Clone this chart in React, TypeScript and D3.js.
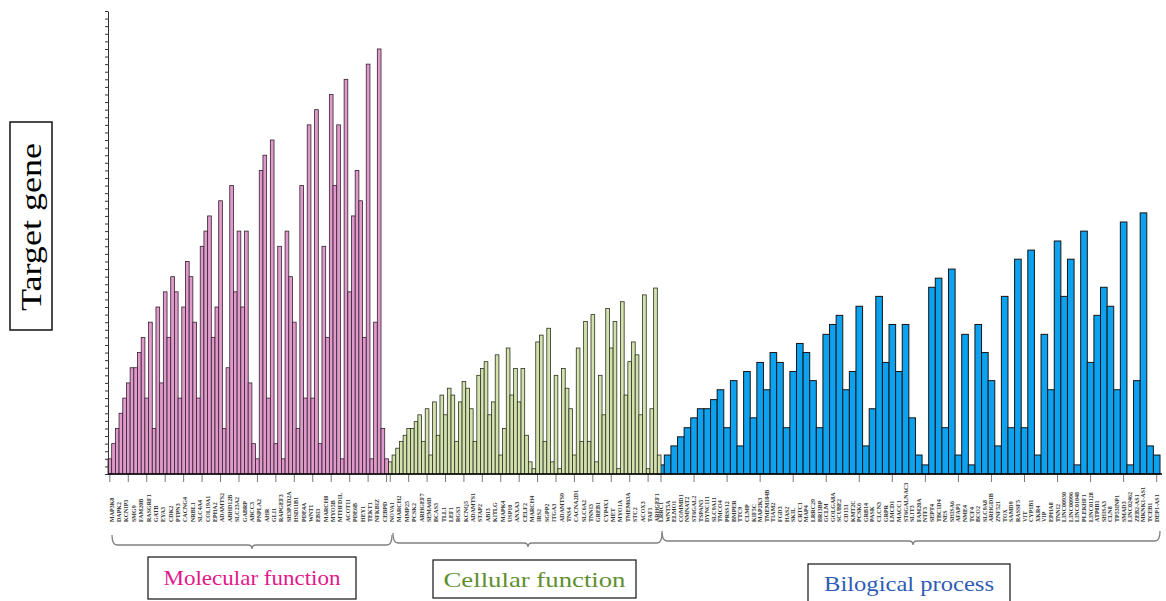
import React, { useEffect, useRef } from 'react';
import * as d3 from 'd3';

// bar heights, in y-axis tick units (baseline = 0)
const molecularValues = [
  2, 4, 6, 8, 10, 12, 14, 14, 16, 18, 10, 20, 6, 22, 12, 24, 18, 26, 24, 10,
  22, 28, 26, 20, 10, 30, 32, 34, 18, 22, 36, 6, 14, 38, 24, 32, 22, 32, 12, 4,
  2, 40, 42, 10, 44, 4, 30, 2, 32, 26, 20, 6, 38, 10, 46, 10, 48, 4, 30, 18,
  50, 38, 46, 2, 52, 24, 34, 40, 36, 18, 54, 2, 20, 56, 6, 2,
];

const cellularValues = [
  1.6, 2.5, 3.4, 4.3, 5.1, 6.0, 6.0, 6.9, 7.8, 4.3, 8.6, 2.5, 9.5, 5.1, 10.4, 7.8, 11.3, 10.4, 4.3, 9.5,
  12.2, 11.3, 8.6, 4.3, 13.0, 13.9, 14.8, 7.8, 9.5, 15.7, 2.5, 6.0, 16.6, 10.4, 13.9, 9.5, 13.9, 5.1, 1.6, 0.7,
  17.4, 18.3, 4.3, 19.2, 1.6, 13.0, 0.7, 13.9, 11.3, 8.6, 2.5, 16.6, 4.3, 20.1, 4.3, 21.0, 1.6, 13.0, 7.8, 21.8,
  16.6, 20.1, 0.7, 22.7, 10.4, 14.8, 17.4, 15.7, 7.8, 23.6, 0.7, 8.6, 24.5, 2.5,
];

const biologicalValues = [
  1.2, 2.5, 3.7, 4.9, 6.1, 7.4, 8.6, 8.6, 9.8, 11.1, 6.1, 12.3, 3.7, 13.5, 7.4, 14.7, 11.1, 16.0, 14.7, 6.1,
  13.5, 17.2, 16.0, 12.3, 6.1, 18.4, 19.7, 20.9, 11.1, 13.5, 22.1, 3.7, 8.6, 23.4, 14.7, 19.7, 13.5, 19.7, 7.4, 2.5,
  1.2, 24.6, 25.8, 6.1, 27.0, 2.5, 18.4, 1.2, 19.7, 16.0, 12.3, 3.7, 23.4, 6.1, 28.3, 6.1, 29.5, 2.5, 18.4, 11.1,
  30.7, 23.4, 28.3, 1.2, 32.0, 14.7, 20.9, 24.6, 22.1, 11.1, 33.2, 1.2, 12.3, 34.4, 3.7, 2.5,
];

// gene labels under the axis (pink and green: one per two bars)
const molecularGenes = [
  'MAP3K8', 'DAPK2', 'KCNIP3', 'SMG9', 'FAM20B', 'RASGRF1', 'GATB', 'EYA3', 'CDK2', 'PTPN3',
  'CACNG4', 'NRBL1', 'SLC4A4', 'COL19A1', 'EPHA2', 'ADAMTS2', 'ABHD12B', 'SLC23A2', 'GABRP', 'ABCC3',
  'PNPLA2', 'AHR', 'GLI1', 'RAPGEF3', 'SH3PXD2A', 'HSD11B1', 'PDE4A', 'WNT1', 'EBI3', 'MARCH8',
  'MYO5B', 'MTHFD1L', 'ACOT11', 'PDE6B', 'HEY1', 'TEKT1', 'NFKBIZ', 'CEBPD',
];

const cellularGenes = [
  'NOVA1', 'MARCH2', 'MMP25', 'PCSK2', 'ARHGEF7', 'SEMA6D', 'BCAS3', 'TLL1', 'LEF1', 'RGS3',
  'KCNQ5', 'ADAMTS1', 'STAP2', 'ABI3', 'KITLG', 'MAPK4', 'USP10', 'ANXA3', 'CELF2', 'MARCH4',
  'IRS2', 'SGPP2', 'ITGA3', 'ADAMTS9', 'TNS4', 'CACNA2D1', 'SLC6A2', 'TNNI3', 'GREB1', 'CYP4X1',
  'MET', 'MYO1A', 'TMEM63A', 'STC2', 'ACOX3', 'TAF1', 'ARHGEF1',
];

const biologicalGenes = [
  'LRRC1', 'WNT5A', 'ELMO1', 'COMMD1', 'NMNAT2', 'ST6GAL2', 'TSPAN5', 'DYNC1I1', 'SLC9A11', 'TMCO4',
  'PRSS12', 'BMPER', 'TTC9', 'CLMP', 'KIF5C', 'MAP2K3', 'TMEM184B', 'TIAM2', 'FGD3', 'HAS2',
  'SKIL', 'CRTC1', 'MAP4', 'LRRC29', 'BRI3BP', 'GCLM', 'GOLGA8A', 'SCUBE2', 'CD151', 'KMT2C',
  'PCSK6', 'GRB14', 'PASK', 'CLCN3', 'GRPR', 'LMCD1', 'MACC1', 'ST6GALNAC3', 'SLIT3', 'FAM20A',
  'NTF3', 'SEPT4', 'TBC1D4', 'NES', 'SHISA6', 'AFAP1', 'NME4', 'TCF4', 'BCO2', 'SLC9A8',
  'ARHGDIB', 'ZNF521', 'TOX', 'SAMD9', 'RASSF5', 'VIT', 'CYP1B1', 'XKR4', 'VIP', 'EPHA8',
  'TNNI2', 'LINC00930', 'LINC00996', 'LINC01048', 'PLEKHF1', 'LINC01128', 'ATP8B1', 'SHISA3', 'CLN8', 'TP53INP1',
  'SMAD3', 'LINC02462', 'ZEB2-AS1', 'MKNK1-AS1', 'TCEB1', 'DEP1-AS1',
];

const groupTitles = ['Molecular function', 'Cellular function', 'Bilogical process'];
const yTicks = d3.range(0, 62);

const SERIF = '"Liberation Serif", "Times New Roman", serif';

export default function App() {
  const ref = useRef<SVGSVGElement>(null);

  useEffect(() => {
    const svg = d3.select(ref.current);
    svg.selectAll('*').remove();

    const y = d3.scaleLinear().domain([0, 61]).range([474, 11]);

    const groups = [
      {
        values: biologicalValues, genes: biologicalGenes, title: groupTitles[2],
        range: [657.7, 1160], fill: '#0ca2f0', stroke: '#151515', sw: 1,
        titleColor: '#2f5db5', box: [808, 564, 202, 38], textY: 591, textLen: 170,
        brace: [662, 1160, 913, 531, 541],
      },
      {
        values: cellularValues, genes: cellularGenes, title: groupTitles[1],
        range: [388.4, 661], fill: '#d4e1ae', stroke: '#2a3320', sw: 0.8,
        titleColor: '#5f8f2f', box: [433, 560, 203, 38], textY: 587, textLen: 182,
        brace: [393, 662, 528, 533, 543],
      },
      {
        values: molecularValues, genes: molecularGenes, title: groupTitles[0],
        range: [108, 388.4], fill: '#df9acb', stroke: '#35212f', sw: 0.8,
        titleColor: '#e2178a', box: [148, 557, 208, 42], textY: 585, textLen: 177,
        brace: [112, 392, 252, 535, 545],
      },
    ];

    const chart = svg.append('g');

    groups.forEach(g => {
      const x = d3.scaleBand<number>()
        .domain(d3.range(g.values.length))
        .range(g.range as [number, number]);

      chart.append('g')
        .selectAll('rect')
        .data(g.values)
        .join('rect')
        .attr('x', (_, i) => x(i)!)
        .attr('y', d => y(d))
        .attr('width', x.bandwidth())
        .attr('height', d => y(0) - y(d))
        .attr('fill', g.fill)
        .attr('stroke', g.stroke)
        .attr('stroke-width', g.sw);

      // small ticks under the baseline, every fifth bar
      chart.append('g')
        .selectAll('line')
        .data(d3.range(0, g.values.length, 5))
        .join('line')
        .attr('x1', i => x(i)! + x.bandwidth() / 2)
        .attr('x2', i => x(i)! + x.bandwidth() / 2)
        .attr('y1', y(0))
        .attr('y2', y(0) + 8)
        .attr('stroke', '#555')
        .attr('stroke-width', 0.8);

      const lx = d3.scaleBand<string>().domain(g.genes).range(g.range as [number, number]);
      chart.append('g')
        .selectAll('text')
        .data(g.genes)
        .join('text')
        .attr('transform', d => `translate(${lx(d)! + lx.bandwidth() / 2 + 2},522) rotate(-90)`)
        .attr('font-family', SERIF)
        .attr('font-size', 6)
        .attr('font-weight', 'bold')
        .attr('fill', '#333')
        .text(d => d);

      // brace under the group
      const [b0, b1, bm, top, base] = g.brace;
      const p = d3.path();
      p.moveTo(b0, top);
      p.quadraticCurveTo(b0, base, b0 + 5, base);
      p.lineTo(bm - 4, base);
      p.quadraticCurveTo(bm, base, bm, base + 4);
      p.quadraticCurveTo(bm, base, bm + 4, base);
      p.lineTo(b1 - 5, base);
      p.quadraticCurveTo(b1, base, b1, top);
      chart.append('path')
        .attr('d', p.toString())
        .attr('fill', 'none')
        .attr('stroke', '#808080')
        .attr('stroke-width', 1.3);

      const [bx, by, bw, bh] = g.box;
      chart.append('rect')
        .attr('x', bx).attr('y', by).attr('width', bw).attr('height', bh)
        .attr('fill', 'white').attr('stroke', '#111').attr('stroke-width', 1.2);
      chart.append('text')
        .attr('x', bx + bw / 2)
        .attr('y', g.textY)
        .attr('text-anchor', 'middle')
        .attr('font-family', SERIF)
        .attr('font-size', 22)
        .attr('textLength', g.textLen)
        .attr('lengthAdjust', 'spacingAndGlyphs')
        .attr('fill', g.titleColor)
        .text(g.title);
    });

    // axes
    chart.append('g')
      .attr('transform', 'translate(108,0)')
      .attr('color', '#333')
      .call(d3.axisLeft(y).tickValues(yTicks).tickSize(3).tickSizeOuter(0).tickFormat(() => ''));

    chart.append('line')
      .attr('x1', 108).attr('x2', 1162)
      .attr('y1', y(0)).attr('y2', y(0))
      .attr('stroke', '#000').attr('stroke-width', 1.6);

    // y title box
    chart.append('rect')
      .attr('x', 10).attr('y', 122).attr('width', 42).attr('height', 208)
      .attr('fill', 'white').attr('stroke', '#111').attr('stroke-width', 1.5);
    chart.append('text')
      .attr('transform', 'translate(41,227) rotate(-90)')
      .attr('text-anchor', 'middle')
      .attr('font-family', SERIF)
      .attr('font-size', 30)
      .attr('textLength', 168)
      .attr('lengthAdjust', 'spacingAndGlyphs')
      .attr('fill', '#000')
      .text('Target gene');
  }, []);

  return (
    <svg
      ref={ref}
      width={1166}
      height={601}
      style={{ position: 'absolute', left: 0, top: 0, background: '#fff' }}
    />
  );
}
